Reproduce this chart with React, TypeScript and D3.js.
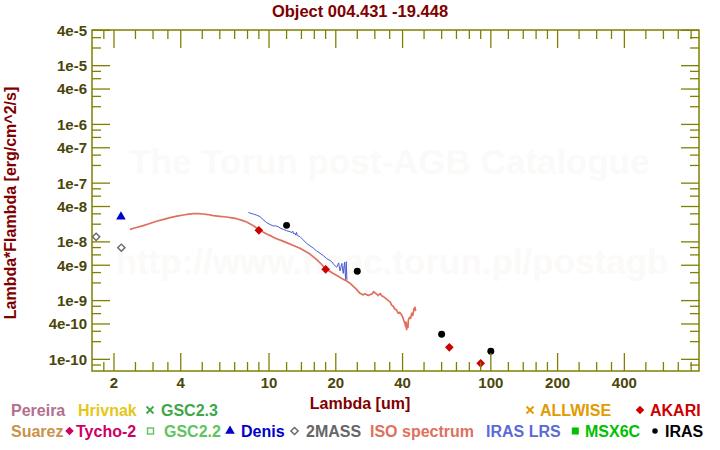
import React from "react";
import * as d3 from "d3";

// ---------- data ----------
const isoLambda = [2.36, 2.5, 2.71, 2.9, 3.11, 3.35, 3.58, 3.85, 4.11, 4.35, 4.56, 4.8, 5.06, 5.3, 5.61, 6.0, 6.44, 6.8, 7.15, 7.5, 7.93, 8.5, 9.04, 9.76, 10.3, 10.8, 11.4, 12.0, 12.87, 13.79, 14.5, 15.3, 16.4, 17.2, 17.94, 18.7, 19.5, 20.5, 21.6, 22.4, 23.2, 24.0, 24.8, 25.7, 26.1, 26.6, 27.0, 27.5, 28.0, 28.5, 29.2, 29.6, 30.0, 30.5, 31.1, 31.7, 32.3, 32.8, 33.5, 34.0, 34.5, 35.1, 35.7, 36.3, 36.9, 37.6, 38.2, 38.9, 39.6, 40.1, 40.5, 41.0, 41.3, 41.5, 41.7, 42.0, 42.3, 42.5, 43.0, 43.5, 44.0, 44.5, 45.0, 45.5, 45.8];
const isoFlux = [1.63e-8, 1.74e-8, 1.89e-8, 2.06e-8, 2.24e-8, 2.42e-8, 2.58e-8, 2.74e-8, 2.87e-8, 2.97e-8, 3.02e-8, 3.03e-8, 2.98e-8, 2.92e-8, 2.8e-8, 2.72e-8, 2.65e-8, 2.57e-8, 2.48e-8, 2.35e-8, 2.18e-8, 1.89e-8, 1.59e-8, 1.36e-8, 1.24e-8, 1.13e-8, 1.05e-8, 9.7e-9, 8.7e-9, 7.8e-9, 7.0e-9, 6.2e-9, 5.0e-9, 4.2e-9, 3.5e-9, 3.2e-9, 2.9e-9, 2.6e-9, 2.3e-9, 2.15e-9, 1.97e-9, 1.75e-9, 1.55e-9, 1.33e-9, 1.3e-9, 1.25e-9, 1.3e-9, 1.27e-9, 1.22e-9, 1.26e-9, 1.3e-9, 1.42e-9, 1.36e-9, 1.3e-9, 1.22e-9, 1.32e-9, 1.2e-9, 1.17e-9, 1.1e-9, 1.05e-9, 1.0e-9, 9.6e-10, 8.4e-10, 8.0e-10, 7.2e-10, 6.9e-10, 6.1e-10, 6.3e-10, 5.7e-10, 5.2e-10, 4.6e-10, 4.1e-10, 3.6e-10, 4.3e-10, 3.2e-10, 3.9e-10, 3.5e-10, 4.7e-10, 5.2e-10, 5.0e-10, 6.1e-10, 5.6e-10, 7.2e-10, 7.7e-10, 6.6e-10];

const lrsLambda = [8.07, 8.3, 8.5, 8.8, 9.1, 9.4, 9.76, 10.1, 10.45, 10.7, 11.0, 11.3, 11.6, 12.0, 12.43, 12.7, 12.8, 12.9, 13.1, 13.2, 13.3, 13.4, 13.79, 14.2, 14.78, 15.3, 15.84, 16.4, 16.98, 17.6, 18.19, 18.7, 19.16, 19.6, 20.2, 20.6, 20.9, 21.3, 21.6, 21.9, 22.15, 22.3, 22.45];
const lrsFlux = [3.18e-8, 3.05e-8, 2.98e-8, 2.85e-8, 2.69e-8, 2.4e-8, 2.12e-8, 1.98e-8, 1.86e-8, 1.88e-8, 1.81e-8, 1.7e-8, 1.63e-8, 1.55e-8, 1.49e-8, 1.44e-8, 1.52e-8, 1.38e-8, 1.4e-8, 1.3e-8, 1.45e-8, 1.28e-8, 1.23e-8, 1.1e-8, 9.4e-9, 8.6e-9, 7.8e-9, 7.0e-9, 6.4e-9, 5.8e-9, 5.2e-9, 4.9e-9, 4.6e-9, 4.1e-9, 3.7e-9, 4.4e-9, 3.2e-9, 4.3e-9, 2.9e-9, 4.5e-9, 2.3e-9, 4.6e-9, 2.25e-9];

const twomassLambda = [1.662, 2.159];
const twomassFlux = [1.22e-8, 7.95e-9];
const denisLambda = [2.15];
const denisFlux = [2.68e-8];
const akariLambda = [9, 18, 65, 90];
const akariFlux = [1.57e-8, 3.41e-9, 1.6e-10, 8.55e-11];
const irasLambda = [12, 25, 60, 100];
const irasFlux = [1.91e-8, 3.16e-9, 2.67e-10, 1.37e-10];

const xMajorTicks = [2, 4, 10, 20, 40, 100, 200, 400];
const xTickLabels = ["2", "4", "10", "20", "40", "100", "200", "400"];
const xMinorTicks = [1.8, 2.5, 3, 3.5, 5, 6, 7, 8, 9, 12, 14, 16, 18, 25, 30, 35, 50, 60, 70, 80, 90, 120, 140, 160, 180, 250, 300, 350, 500, 600, 700, 800];
const yMajorTicks = [1e-10, 4e-10, 1e-9, 4e-9, 1e-8, 4e-8, 1e-7, 4e-7, 1e-6, 4e-6, 1e-5, 4e-5];
const yTickLabels = ["1e-10", "4e-10", "1e-9", "4e-9", "1e-8", "4e-8", "1e-7", "4e-7", "1e-6", "4e-6", "1e-5", "4e-5"];
const yMinorTicks = [8e-11, 2e-10, 3e-10, 6e-10, 8e-10, 2e-9, 3e-9, 6e-9, 8e-9, 2e-8, 3e-8, 6e-8, 8e-8, 2e-7, 3e-7, 6e-7, 8e-7, 2e-6, 3e-6, 6e-6, 8e-6, 2e-5, 3e-5];

const legendRow1 = ["Pereira", "Hrivnak", "GSC2.3", "ALLWISE", "AKARI"];
const legendRow2 = ["Suarez", "Tycho-2", "GSC2.2", "Denis", "2MASS", "ISO spectrum", "IRAS LRS", "MSX6C", "IRAS"];

const FONT = "'Liberation Sans', Arial, Helvetica, sans-serif";
const AXIS = "#808000";
const TICKTXT = "#4a460a";
const DARKRED = "#800000";

export default function App() {
  const x = d3.scaleLog().domain([1.592, 868]).range([92, 699]);
  const y = d3.scaleLog().domain([6.33e-11, 4.05e-5]).range([371, 30]);
  const [x0, x1] = x.range();
  const [y0, y1] = y.range();

  const line = d3
    .line<[number, number]>()
    .x((d) => x(d[0]))
    .y((d) => y(d[1]));
  const isoPts = isoLambda.map((l, i) => [l, isoFlux[i]] as [number, number]);
  const lrsPts = lrsLambda.map((l, i) => [l, lrsFlux[i]] as [number, number]);

  const sq = d3.symbol().type(d3.symbolSquare);
  const tri = d3.symbol().type(d3.symbolTriangle);
  const circ = d3.symbol().type(d3.symbolCircle);

  const textStyle = { fontFamily: FONT, fontWeight: 700 } as const;

  // legend layout (positions only)
  const r1 = 416;
  const r2 = 437;
  const s1 = 410;
  const s2 = 431;
  const row1Layout = [
    { x: 11, color: "#b36f8f" },
    { x: 78, color: "#e6c619" },
    { x: 161, color: "#3fa64a", sym: "x", sx: 150 },
    { x: 540, color: "#e09b00", sym: "x", sx: 530 },
    { x: 650, color: "#cc0000", sym: "diamond", sx: 640 },
  ];
  const row2Layout = [
    { x: 11, color: "#c9934a" },
    { x: 76, color: "#cc0066", sym: "diamond", sx: 69.5 },
    { x: 164, color: "#5ec45e", sym: "osquare", sx: 150.5 },
    { x: 241, color: "#0000cc", sym: "triangle", sx: 230 },
    { x: 306, color: "#666666", sym: "odiamond", sx: 294.5 },
    { x: 370, color: "#e0705e" },
    { x: 486, color: "#5b6bd6" },
    { x: 585, color: "#00c000", sym: "fsquare", sx: 575.3 },
    { x: 665, color: "#000000", sym: "circle", sx: 655 },
  ];

  const legendSym = (sym: string | undefined, cx: number, cy: number, color: string, key: string) => {
    if (!sym) return null;
    if (sym === "x")
      return (
        <g key={key} stroke={color} strokeWidth={1.8}>
          <line x1={cx - 3.5} y1={cy - 3.5} x2={cx + 3.5} y2={cy + 3.5} />
          <line x1={cx - 3.5} y1={cy + 3.5} x2={cx + 3.5} y2={cy - 3.5} />
        </g>
      );
    if (sym === "diamond")
      return <path key={key} d={sq.size(36)()!} transform={`translate(${cx},${cy}) rotate(45)`} fill={color} />;
    if (sym === "odiamond")
      return (
        <path key={key} d={sq.size(26)()!} transform={`translate(${cx},${cy}) rotate(45)`} fill="none" stroke={color} strokeWidth={1.4} />
      );
    if (sym === "osquare")
      return <rect key={key} x={cx - 3} y={cy - 3} width={6} height={6} fill="none" stroke={color} strokeWidth={1.4} />;
    if (sym === "fsquare") return <rect key={key} x={cx - 3.5} y={cy - 3.5} width={7} height={7} fill={color} />;
    if (sym === "triangle")
      return <path key={key} d={tri.size(40)()!} transform={`translate(${cx},${cy})`} fill={color} />;
    if (sym === "circle") return <path key={key} d={circ.size(24)()!} transform={`translate(${cx},${cy})`} fill={color} />;
    return null;
  };

  return (
    <svg width={720} height={450} style={{ position: "absolute", left: 0, top: 0, background: "#fff" }}>
      <rect x={0} y={0} width={720} height={450} fill="#fff" />
      {/* watermark */}
      <text x={389.5} y={174} textAnchor="middle" fill="#fbfaf8" fontSize={35} style={textStyle}>
        The Torun post-AGB Catalogue
      </text>
      <text x={392} y={274} textAnchor="middle" fill="#fbfaf8" fontSize={35} style={textStyle}>
        http://www.ncac.torun.pl/postagb
      </text>

      {/* title */}
      <text x={360} y={17} textAnchor="middle" fill={DARKRED} fontSize={16.5} style={textStyle}>
        Object 004.431 -19.448
      </text>

      {/* spectra */}
      <path d={line(isoPts)!} fill="none" stroke="#e0705e" strokeWidth={1.7} strokeLinejoin="round" />
      <path d={line(lrsPts)!} fill="none" stroke="#4a5cd0" strokeWidth={1} />

      {/* photometry */}
      {twomassLambda.map((l, i) => (
        <path key={"m" + i} d={sq.size(26)()!} transform={`translate(${x(l)},${y(twomassFlux[i])}) rotate(45)`} fill="none" stroke="#666" strokeWidth={1.4} />
      ))}
      {denisLambda.map((l, i) => (
        <path key={"d" + i} d={tri.size(40)()!} transform={`translate(${x(l)},${y(denisFlux[i])})`} fill="#0000cc" />
      ))}
      {akariLambda.map((l, i) => (
        <path key={"a" + i} d={sq.size(38)()!} transform={`translate(${x(l)},${y(akariFlux[i])}) rotate(45)`} fill="#cc0000" />
      ))}
      {irasLambda.map((l, i) => (
        <path key={"i" + i} d={circ.size(38)()!} transform={`translate(${x(l)},${y(irasFlux[i])})`} fill="#000" />
      ))}

      {/* axes frame */}
      <rect x={x0} y={y1} width={x1 - x0} height={y0 - y1} fill="none" stroke={AXIS} strokeWidth={1.5} />
      <g stroke={AXIS} strokeWidth={1.3}>
        {xMajorTicks.map((t) => (
          <g key={"xM" + t}>
            <line x1={x(t)} x2={x(t)} y1={y0} y2={y0 - 18} />
            <line x1={x(t)} x2={x(t)} y1={y1} y2={y1 + 18} />
          </g>
        ))}
        {xMinorTicks.map((t) => (
          <g key={"xm" + t}>
            <line x1={x(t)} x2={x(t)} y1={y0} y2={y0 - 9} />
            <line x1={x(t)} x2={x(t)} y1={y1} y2={y1 + 9} />
          </g>
        ))}
        {yMajorTicks.map((t) => (
          <g key={"yM" + t}>
            <line x1={x0} x2={x0 + 18} y1={y(t)} y2={y(t)} />
            <line x1={x1} x2={x1 - 18} y1={y(t)} y2={y(t)} />
          </g>
        ))}
        {yMinorTicks.map((t) => (
          <g key={"ym" + t}>
            <line x1={x0} x2={x0 + 9} y1={y(t)} y2={y(t)} />
            <line x1={x1} x2={x1 - 9} y1={y(t)} y2={y(t)} />
          </g>
        ))}
      </g>

      {/* tick labels */}
      {xMajorTicks.map((t, i) => (
        <text key={"xl" + t} x={x(t)} y={388} textAnchor="middle" fill={TICKTXT} fontSize={15} style={textStyle}>
          {xTickLabels[i]}
        </text>
      ))}
      {yMajorTicks.map((t, i) => (
        <text key={"yl" + t} x={87} y={y(t)} dy="0.36em" textAnchor="end" fill={TICKTXT} fontSize={15} style={textStyle}>
          {yTickLabels[i]}
        </text>
      ))}

      {/* axis titles */}
      <text x={360} y={409} textAnchor="middle" fill={DARKRED} fontSize={16} style={textStyle}>
        Lambda [um]
      </text>
      <text transform="translate(15.5,203) rotate(-90)" textAnchor="middle" fill={DARKRED} fontSize={16} style={textStyle}>
        Lambda*Flambda [erg/cm^2/s]
      </text>

      {/* legend */}
      {legendRow1.map((lab, i) => {
        const L = row1Layout[i];
        return (
          <g key={"l1" + i}>
            {legendSym(L.sym, L.sx ?? 0, s1, L.color, "s1" + i)}
            <text x={L.x} y={r1} fill={L.color} fontSize={16} style={textStyle}>
              {lab}
            </text>
          </g>
        );
      })}
      {legendRow2.map((lab, i) => {
        const L = row2Layout[i];
        return (
          <g key={"l2" + i}>
            {legendSym(L.sym, L.sx ?? 0, s2, L.color, "s2" + i)}
            <text x={L.x} y={r2} fill={L.color} fontSize={16} style={textStyle}>
              {lab}
            </text>
          </g>
        );
      })}
    </svg>
  );
}
